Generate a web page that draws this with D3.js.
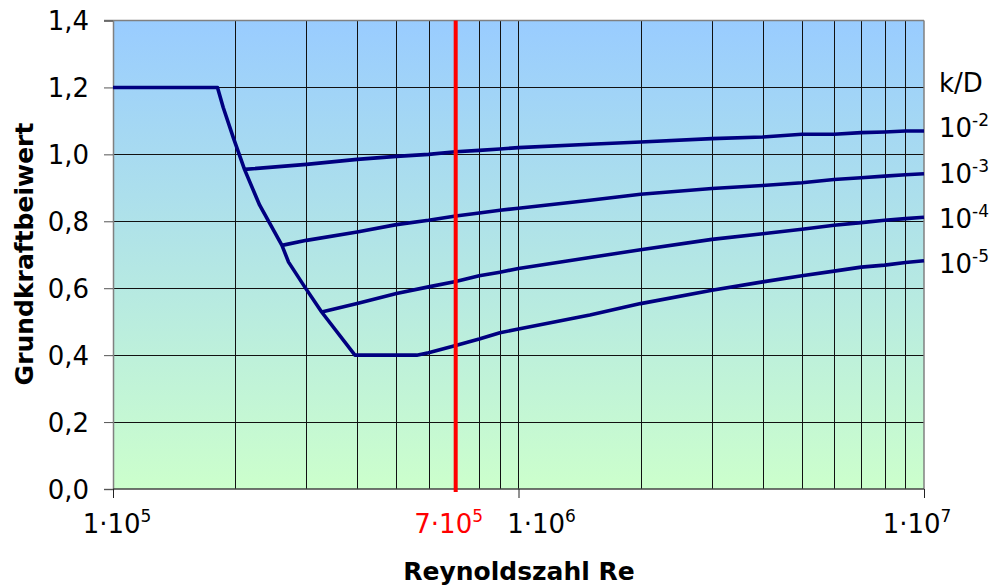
<!DOCTYPE html>
<html><head><meta charset="utf-8">
<script src="https://cdn.jsdelivr.net/npm/d3@7"></script>
<style>body{margin:0;background:#fff}svg{display:block}text{font-family:"DejaVu Sans",Verdana,sans-serif}</style>
</head><body>
<svg id="c" width="995" height="585"></svg>
<script>
// ---- data ----
const descentRe = [1e5, 1.81e5, 1.87e5, 1.98e5, 2.11e5, 2.30e5, 2.61e5, 2.71e5, 2.97e5, 3.27e5, 3.95e5];
const descentCf = [1.2, 1.2, 1.14, 1.05, 0.955, 0.848, 0.728, 0.678, 0.604, 0.529, 0.4];

const k2Re = [2.11e5, 3e5, 4e5, 5e5, 6e5, 7e5, 8e5, 9e5, 1e6, 1.5e6, 2e6, 3e6, 4e6, 5e6, 6e6, 7e6, 8e6, 9e6, 1e7];
const k2Cf = [0.955, 0.970, 0.985, 0.994, 1.000, 1.008, 1.012, 1.016, 1.020, 1.030, 1.037, 1.047, 1.052, 1.060, 1.060, 1.065, 1.067, 1.070, 1.070];

const k3Re = [2.61e5, 3e5, 4e5, 5e5, 6e5, 7e5, 8e5, 9e5, 1e6, 1.5e6, 2e6, 3e6, 4e6, 5e6, 6e6, 7e6, 8e6, 9e6, 1e7];
const k3Cf = [0.728, 0.743, 0.768, 0.790, 0.803, 0.816, 0.825, 0.833, 0.839, 0.863, 0.881, 0.898, 0.907, 0.915, 0.925, 0.930, 0.935, 0.939, 0.942];

const k4Re = [3.27e5, 4e5, 5e5, 6e5, 7e5, 8e5, 9e5, 1e6, 1.5e6, 2e6, 3e6, 4e6, 5e6, 6e6, 7e6, 8e6, 9e6, 1e7];
const k4Cf = [0.529, 0.554, 0.584, 0.604, 0.620, 0.637, 0.648, 0.659, 0.692, 0.715, 0.746, 0.763, 0.776, 0.788, 0.796, 0.803, 0.808, 0.812];

const k5Re = [3.95e5, 5.61e5, 6e5, 7e5, 8e5, 9e5, 1e6, 1.5e6, 2e6, 3e6, 4e6, 5e6, 6e6, 7e6, 8e6, 9e6, 1e7];
const k5Cf = [0.4, 0.4, 0.407, 0.429, 0.448, 0.467, 0.478, 0.520, 0.554, 0.594, 0.619, 0.637, 0.651, 0.663, 0.669, 0.677, 0.682];

const seriesLabels = ["-2", "-3", "-4", "-5"];
const yTicks = [0, 0.2, 0.4, 0.6, 0.8, 1.0, 1.2, 1.4];
const xLabelValues = [1e5, 1e6, 1e7];
const xLabelExp = ["5", "6", "7"];
const markerRe = 7e5;
const markerLabel = ["7·10", "5"];
const xTitle = "Reynoldszahl Re";
const yTitle = "Grundkraftbeiwert";
const legendTitle = "k/D";

// ---- layout ----
const L = 113, R = 924, T = 20.5, B = 489;
const FS = 26, SUP = 17;
const svg = d3.select("#c");
const x = d3.scaleLog().domain([1e5, 1e7]).range([L, R]);
const y = d3.scaleLinear().domain([0, 1.4]).range([B, T]);

const defs = svg.append("defs");
const grad = defs.append("linearGradient").attr("id", "bg").attr("x1", 0).attr("y1", 0).attr("x2", 0).attr("y2", 1);
grad.append("stop").attr("offset", "0%").attr("stop-color", "#99CCFF");
grad.append("stop").attr("offset", "100%").attr("stop-color", "#CCFFCC");

svg.append("rect").attr("x", L).attr("y", T).attr("width", R - L).attr("height", B - T).attr("fill", "url(#bg)");

// grid
const gx = x.ticks().filter(v => v > 1e5 && v < 1e7);
svg.append("g").selectAll("line").data(gx).join("line")
  .attr("x1", d => Math.round(x(d)) + 0.5).attr("x2", d => Math.round(x(d)) + 0.5)
  .attr("y1", T).attr("y2", B).attr("stroke", "#111").attr("stroke-width", 1);
svg.append("g").selectAll("line").data(yTicks.filter(v => v > 0 && v < 1.4)).join("line")
  .attr("x1", L).attr("x2", R).attr("y1", d => Math.round(y(d)) + 0.5).attr("y2", d => Math.round(y(d)) + 0.5)
  .attr("stroke", "#111").attr("stroke-width", 1);

// frame
svg.append("line").attr("x1", L - 9).attr("x2", R).attr("y1", T).attr("y2", T).attr("stroke", "#808080").attr("stroke-width", 1.5);
svg.append("line").attr("x1", R).attr("x2", R).attr("y1", T).attr("y2", B).attr("stroke", "#808080").attr("stroke-width", 1.5);

// y axis
const yAxis = d3.axisLeft(y).tickValues(yTicks).tickSize(9).tickPadding(15)
  .tickFormat(d => d3.format(".1f")(d).replace(".", ","));
const ya = svg.append("g").attr("transform", `translate(${L},0)`).call(yAxis);
ya.select(".domain").attr("stroke", "#808080").attr("stroke-width", 1.5);
ya.selectAll(".tick line").attr("stroke", "#555");
ya.selectAll(".tick text").attr("font-size", FS).attr("fill", "#000").attr("font-family", "DejaVu Sans").attr("dy", "0.36em");

// x axis
const xAxis = d3.axisBottom(x).tickValues(xLabelValues).tickSize(9).tickFormat("");
const xa = svg.append("g").attr("transform", `translate(0,${B})`).call(xAxis);
xa.select(".domain").attr("stroke", "#444").attr("stroke-width", 1.5).attr("d", `M${L},0H${R}`);
xa.selectAll(".tick line").attr("stroke", "#222");

const labelShift = [4, 23, -7];
xLabelValues.forEach((v, i) => {
  const t = svg.append("text").attr("x", x(v) + labelShift[i]).attr("y", 533)
    .attr("text-anchor", "middle").attr("font-size", FS).attr("fill", "#000");
  t.append("tspan").text("1·10");
  t.append("tspan").attr("dy", -11).attr("font-size", SUP).text(xLabelExp[i]);
});
const mt = svg.append("text").attr("x", x(markerRe) - 7).attr("y", 533)
  .attr("text-anchor", "middle").attr("font-size", FS).attr("fill", "#FF0000");
mt.append("tspan").text(markerLabel[0]);
mt.append("tspan").attr("dy", -11).attr("font-size", SUP).text(markerLabel[1]);

// curves
const line = d3.line().x(d => x(d[0])).y(d => y(d[1]));
const zip = (a, b) => a.map((v, i) => [v, b[i]]);
const curves = [
  zip(descentRe, descentCf).concat(zip(k5Re, k5Cf).slice(1)),
  zip(k2Re, k2Cf), zip(k3Re, k3Cf), zip(k4Re, k4Cf)
];
svg.append("g").selectAll("path").data(curves).join("path")
  .attr("d", line).attr("fill", "none").attr("stroke", "#000080")
  .attr("stroke-width", 3.6).attr("stroke-linejoin", "round");

// red marker line
svg.append("line").attr("x1", x(markerRe)).attr("x2", x(markerRe)).attr("y1", T).attr("y2", B + 3)
  .attr("stroke", "#FF0000").attr("stroke-width", 4);

// right-side legend labels
svg.append("text").attr("x", 939).attr("y", 92).attr("font-size", FS).attr("fill", "#000").text(legendTitle);
seriesLabels.forEach((s, i) => {
  const t = svg.append("text").attr("x", 939).attr("y", 92 + 45.3 * (i + 1))
    .attr("font-size", FS).attr("fill", "#000");
  t.append("tspan").text("10");
  t.append("tspan").attr("dy", -11).attr("font-size", SUP).text(s);
});

// titles
svg.append("text").attr("x", 519).attr("y", 580).attr("text-anchor", "middle")
  .attr("font-size", 25).attr("font-weight", "bold").attr("fill", "#000").text(xTitle);
svg.append("text").attr("transform", "translate(33,254) rotate(-90)").attr("text-anchor", "middle")
  .attr("font-size", 25).attr("font-weight", "bold").attr("fill", "#000").text(yTitle);
</script>
</body></html>
